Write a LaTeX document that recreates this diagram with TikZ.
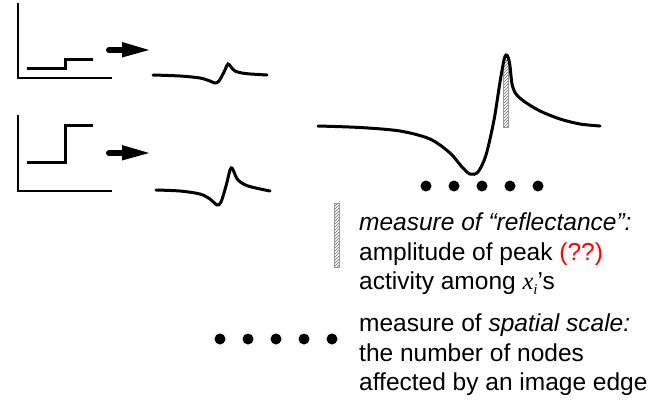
\documentclass[tikz,border=0pt]{standalone}
\usepackage{fontspec}
\setmainfont{Liberation Sans}
\newfontfamily\tnr{Liberation Serif}
\usetikzlibrary{patterns}
\tikzset{
  axisline/.style={line width=2pt},
  stepline/.style={line width=3pt, line join=miter},
  wave/.style={line width=3pt, line cap=round},
  bigarrowshaft/.style={line width=6pt, line cap=round},
  bigarrowhead/.style={fill=black},
  dot/.style={circle, fill=black, minimum size=11pt, inner sep=0pt},
  hatchbar/.style={pattern=north east lines, pattern color=black!60, draw=black!40, line width=0.4pt},
  txt/.style={anchor=base west, inner sep=0pt, font=\fontsize{24.5}{29.5}\selectfont},
}
\begin{document}
\begin{tikzpicture}[x=1pt, y=-1pt]
\useasboundingbox (0,0) rectangle (656,400);
% top plot
\draw[axisline] (18,3) -- (18,78) -- (112,78);
\draw[stepline] (27,68) -- (65,68) -- (65,59) -- (93,59);
\draw[bigarrowshaft] (109,50) -- (124,50);
\fill[bigarrowhead] (122,42) -- (149,50) -- (122,57.5) -- cycle;
\draw[wave] plot[smooth, tension=0.5] coordinates {(153,75) (180,76) (200,78) (210,81) (215,83) (219,81) (224,72) (228,64) (231,67) (235,71) (245,73.5) (267,75)};
% bottom plot
\draw[axisline] (18,115) -- (18,191) -- (112,191);
\draw[stepline] (27,162) -- (65,162) -- (65,125) -- (93,125);
\draw[bigarrowshaft] (109,153) -- (124,153);
\fill[bigarrowhead] (122,145) -- (149,153) -- (122,160.5) -- cycle;
\draw[wave] plot[smooth, tension=0.5] coordinates {(156,190) (180,191) (200,194) (210,199) (217,205) (221,202) (226,186) (230,170) (232,168) (234,172) (238,180) (248,186) (270,191)};
% big curve
\draw[hatchbar] (503,60) rectangle (508,127);
\draw[wave] plot[smooth, tension=0.5] coordinates {(318,126) (360,127.5) (400,131) (430,139) (450,153) (462,167) (470,174) (478,172) (486,155) (494,120) (500,82) (504,60) (506,55) (508,57) (510,66) (512,84) (516,94) (525,102) (540,111) (560,119) (580,124) (600,126)};
% upper dots
\foreach \i/\x in {1/426,2/454,3/482,4/510,5/538} \node[dot] (ud\i) at (\x,186) {};
% legend bar
\draw[hatchbar] (334,203) rectangle (339,267);
\node[txt] (t1) at (359,230) {\itshape measure of “reflectance”:};
\node[txt] (t2) at (359,260) {amplitude of peak \textcolor{red}{(??)}};
\node[txt] (t3) at (359,289) {activity among {\tnr\itshape x\raisebox{-0.22em}{\fontsize{15}{15}\selectfont i}}’s};
% lower dots
\foreach \i/\x in {1/220,2/248,3/276,4/304,5/332} \node[dot] (ld\i) at (\x,339) {};
\node[txt] (s1) at (359,331) {measure of \textit{spatial scale:}};
\node[txt] (s2) at (359,361) {the number of nodes};
\node[txt] (s3) at (359,390) {affected by an image edge};
\end{tikzpicture}
\end{document}
